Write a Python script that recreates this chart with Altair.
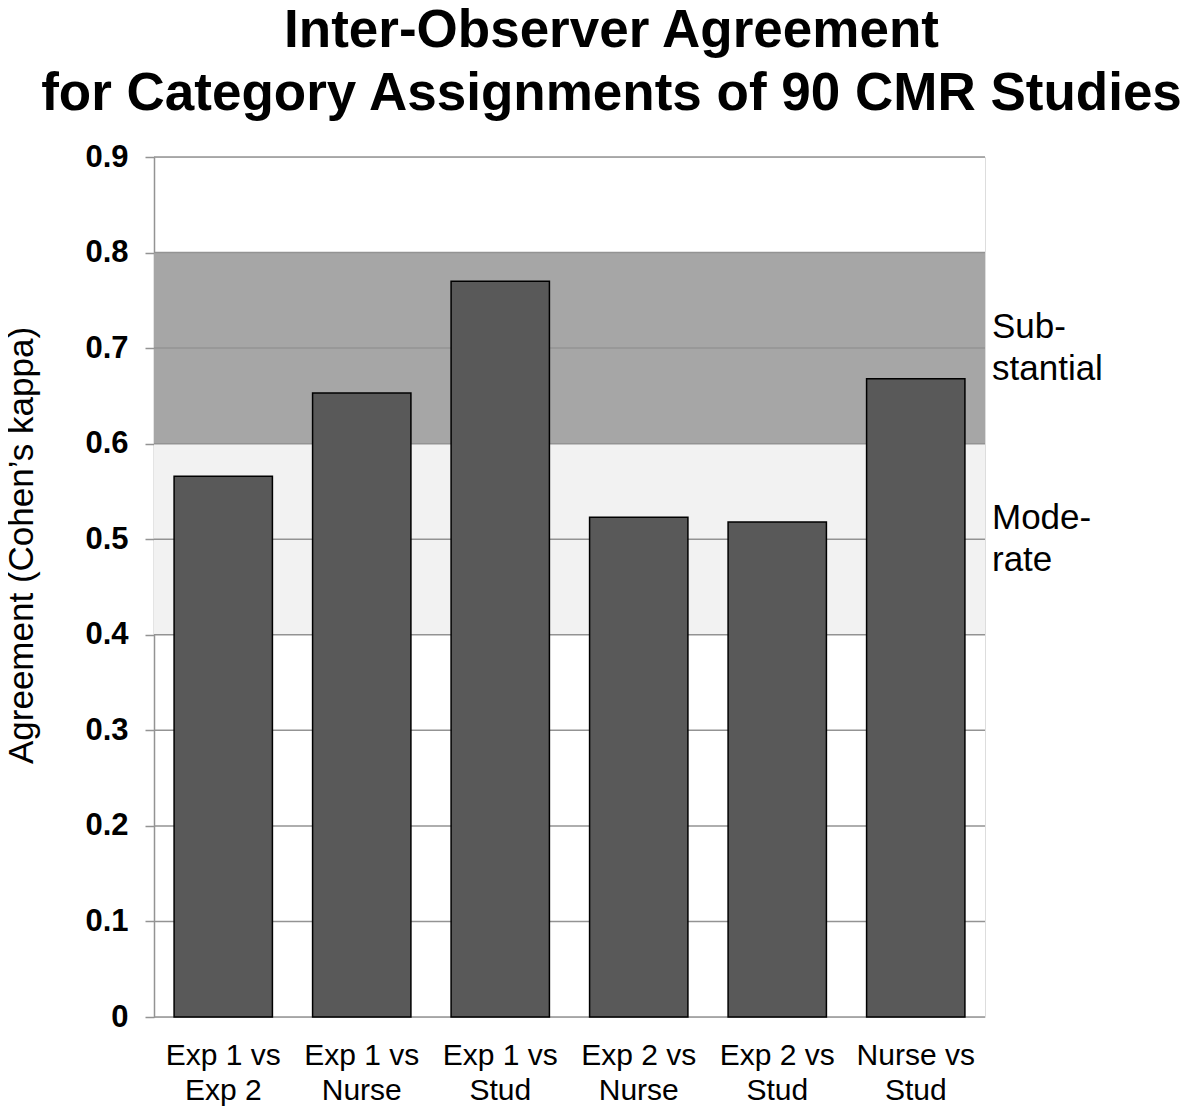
import altair as alt
import pandas as pd

categories = ["Exp 1 vs\nExp 2", "Exp 1 vs\nNurse", "Exp 1 vs\nStud",
              "Exp 2 vs\nNurse", "Exp 2 vs\nStud", "Nurse vs\nStud"]
kappa = [0.566, 0.653, 0.770, 0.523, 0.518, 0.668]

band_names = ["Sub-\nstantial", "Mode-\nrate"]
band_low = [0.6, 0.4]
band_high = [0.8, 0.6]
band_mid = [0.7, 0.5]
band_colors = ["#a6a6a6", "#f2f2f2"]

tick_values = [0, 0.1, 0.2, 0.3, 0.4, 0.5, 0.6, 0.7, 0.8, 0.9]

FONT = "Liberation Sans"
W, H = 831, 860

bars_df = pd.DataFrame({"pair": categories, "kappa": kappa})
bands_df = pd.DataFrame({"name": band_names, "lo": band_low, "hi": band_high,
                         "mid": band_mid, "color": band_colors})
grid_df = pd.DataFrame({"v": tick_values})

yscale = alt.Scale(domain=[0, 0.9], nice=False, zero=True)

bands = alt.Chart(bands_df).mark_rect().encode(
    x=alt.value(0), x2=alt.value(W),
    y=alt.Y("lo:Q", scale=yscale),
    y2="hi:Q",
    color=alt.Color("color:N", scale=None),
)

grid = alt.Chart(grid_df).mark_rule(color="#939393", strokeWidth=1.5).encode(
    x=alt.value(0), x2=alt.value(W),
    y=alt.Y("v:Q", scale=yscale),
)

bars = alt.Chart(bars_df).mark_bar(color="#595959", stroke="#000000", strokeWidth=1.5).encode(
    x=alt.X("pair:N", sort=categories,
            scale=alt.Scale(paddingInner=0.29, paddingOuter=0.145),
            axis=alt.Axis(title=None, labelAngle=0, domain=False, ticks=False,
                          labelExpr="split(datum.label, '\\n')",
                          labelFont=FONT, labelFontSize=30, labelColor="#000000",
                          labelLineHeight=35, labelPadding=23)),
    y=alt.Y("kappa:Q", scale=yscale,
            axis=alt.Axis(title="Agreement (Cohen\u2019s kappa)", values=tick_values,
                          format="~g", grid=False, domainColor="#939393", domainWidth=1.5,
                          tickColor="#939393", tickWidth=1.5, tickSize=9,
                          labelFont=FONT, labelFontSize=31, labelFontWeight="bold",
                          labelColor="#000000", labelPadding=17,
                          titleFont=FONT, titleFontSize=35, titleFontWeight="normal",
                          titleColor="#000000", titleAngle=-90, titleX=-133, titleY=388,
                          titleAlign="center", titleBaseline="middle")),
)

labels = alt.Chart(bands_df).mark_text(
    align="left", baseline="middle", lineBreak="\n", font=FONT, fontSize=35,
    lineHeight=42, dy=-21, color="#000000"
).encode(
    x=alt.value(W + 7),
    y=alt.Y("mid:Q", scale=yscale),
    text="name:N",
)

chart = alt.layer(bands, grid, bars, labels).properties(
    width=W, height=H,
    title=alt.TitleParams(
        ["Inter-Observer Agreement", "for Category Assignments of 90 CMR Studies"],
        font=FONT, fontSize=53, fontWeight="bold", color="#000000",
        anchor="middle", dx=42, lineHeight=63, offset=20),
    autosize=alt.AutoSizeParams(type="none"),
    padding={"left": 146, "top": 149, "right": 207, "bottom": 91},
).configure_view(stroke=None).configure(background="white")

chart.save("out.html", embed_options={"renderer": "svg", "actions": False})
